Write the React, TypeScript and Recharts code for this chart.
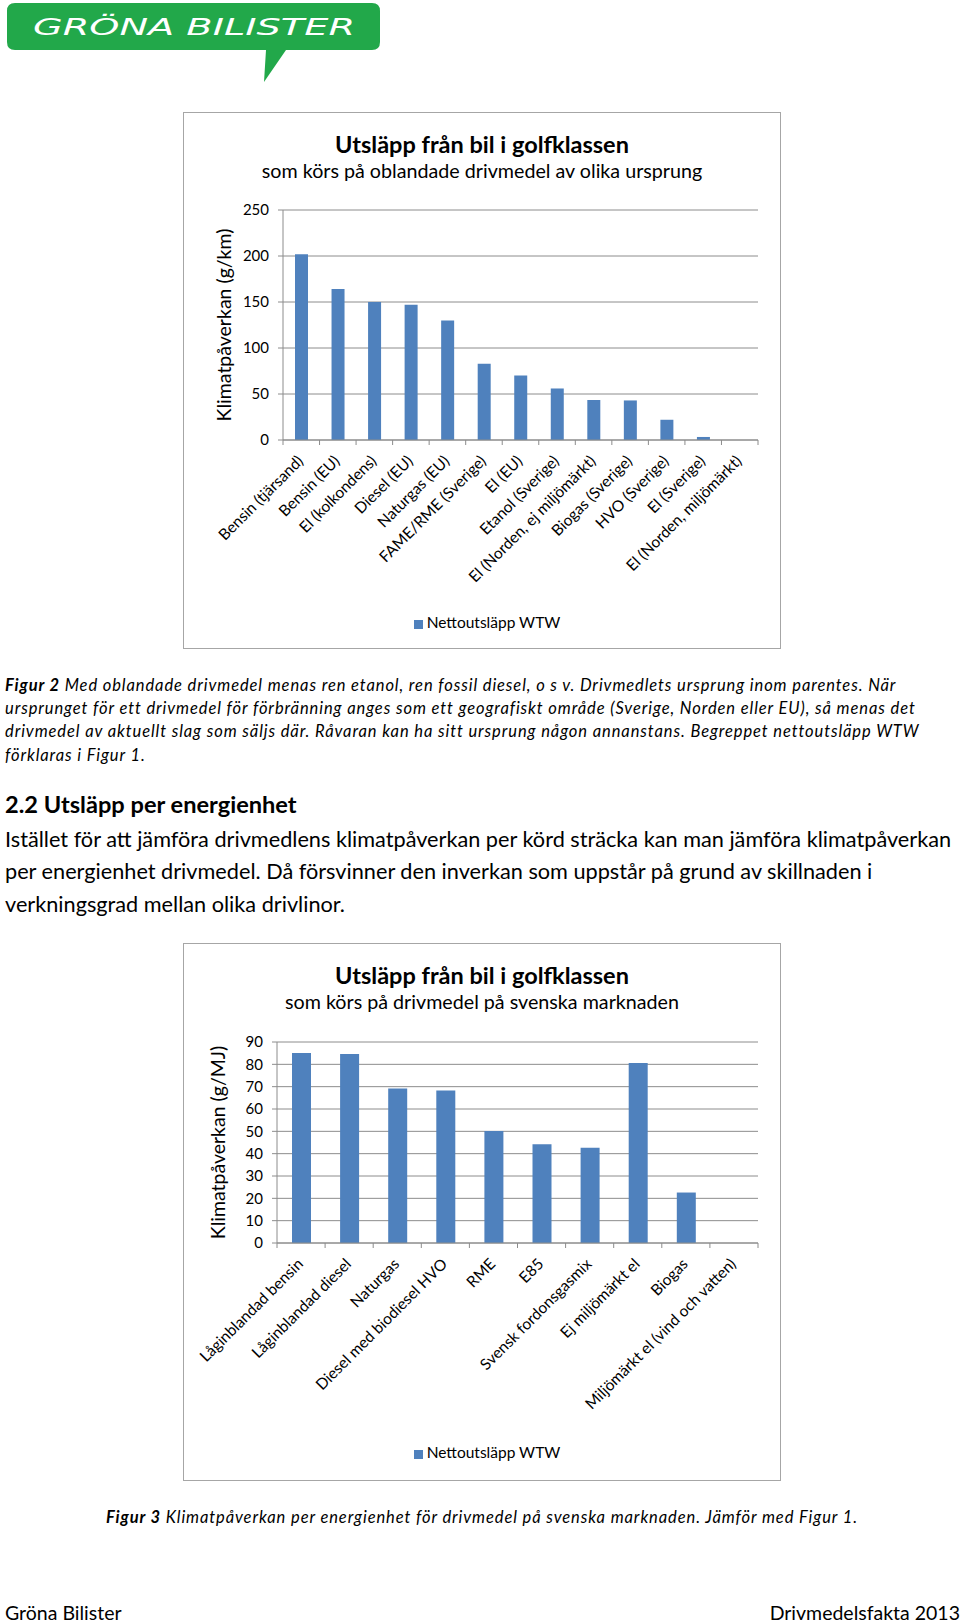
import React from 'react';
import { BarChart, Bar, XAxis, YAxis, CartesianGrid, Legend, Label } from 'recharts';

const FONT = "Lato, 'Open Sans', sans-serif";
const BLUE = '#4f81bd';
const GRID = '#8c8c8c';
const Y_AXIS_W = 60;

// Figur 2 - g/km, oblandade drivmedel
const fuelsKm = [
  'Bensin (tjärsand)',
  'Bensin (EU)',
  'El (kolkondens)',
  'Diesel (EU)',
  'Naturgas (EU)',
  'FAME/RME (Sverige)',
  'El (EU)',
  'Etanol (Sverige)',
  'El (Norden, ej miljömärkt)',
  'Biogas (Sverige)',
  'HVO (Sverige)',
  'El (Sverige)',
  'El (Norden, miljömärkt)',
];
const emissionsKm = [202, 164, 150, 147, 130, 83, 70, 56, 43.5, 43, 22, 3.3, 0];
const yTicksKm = [0, 50, 100, 150, 200, 250];

// Figur 3 - g/MJ, svenska marknaden
const fuelsMJ = [
  'Låginblandad bensin',
  'Låginblandad diesel',
  'Naturgas',
  'Diesel med biodiesel HVO',
  'RME',
  'E85',
  'Svensk fordonsgasmix',
  'Ej miljömärkt el',
  'Biogas',
  'Miljömärkt el (vind och vatten)',
];
const emissionsMJ = [85.1, 84.6, 69.2, 68.3, 50.1, 44.2, 42.7, 80.6, 22.6, 0];
const yTicksMJ = [0, 10, 20, 30, 40, 50, 60, 70, 80, 90];

const SERIES = 'Nettoutsläpp WTW';

type PanelProps = {
  left: number;
  top: number;
  width: number;
  height: number;
  title: string;
  subtitle: string;
  yLabel: string;
  names: string[];
  values: number[];
  ticks: number[];
  margin: { top: number; right: number; bottom: number; left: number };
  xAxisHeight: number;
  barSize: number;
  legendTop: number;
};

// category label plus Excel-style tick marks between the categories
const CatTick = (props: any) => {
  const { x, y, payload, index, count, band } = props;
  const ax = x + 3;
  const ay = y + 22;
  return (
    <g>
      <line x1={x - band / 2} x2={x - band / 2} y1={y} y2={y + 5} stroke={GRID} />
      {index === count - 1 && <line x1={x + band / 2} x2={x + band / 2} y1={y} y2={y + 5} stroke={GRID} />}
      <text
        x={ax}
        y={ay}
        transform={`rotate(-45 ${ax} ${ay})`}
        textAnchor="end"
        fontSize={15.5}
        fontFamily={FONT}
        fill="#000"
      >
        {payload.value}
      </text>
    </g>
  );
};

const YTitle = (props: any) => {
  const vb = props.viewBox || {};
  const cx = vb.x;
  const cy = vb.y + vb.height / 2;
  return (
    <text
      x={cx}
      y={cy}
      transform={`rotate(-90 ${cx} ${cy})`}
      textAnchor="middle"
      dominantBaseline="central"
      fontSize={19.5}
      fontFamily={FONT}
      fill="#000"
    >
      {props.value}
    </text>
  );
};

const ChartPanel = (p: PanelProps) => {
  const data = p.names.map((name, i) => ({ name, value: p.values[i] }));
  const n = p.names.length;
  const plotW = p.width - p.margin.left - p.margin.right - Y_AXIS_W;
  const max = p.ticks[p.ticks.length - 1];
  return (
    <div style={{ position: 'absolute', left: p.left, top: p.top, width: p.width, height: p.height }}>
      <div
        style={{
          position: 'absolute',
          inset: 0,
          border: '1.5px solid #a6a6a6',
          boxSizing: 'border-box',
        }}
      />
      <div
        style={{
          position: 'absolute',
          left: 0,
          width: p.width,
          top: 17,
          textAlign: 'center',
          fontWeight: 700,
          fontSize: 23.5,
          lineHeight: '30px',
        }}
      >
        {p.title}
      </div>
      <div
        style={{
          position: 'absolute',
          left: 0,
          width: p.width,
          top: 46,
          textAlign: 'center',
          fontSize: 19.7,
          lineHeight: '26px',
        }}
      >
        {p.subtitle}
      </div>
      <div style={{ position: 'absolute', left: 0, top: 0 }}>
        <BarChart width={p.width} height={p.height} data={data} margin={p.margin} barSize={p.barSize}>
          <CartesianGrid vertical={false} stroke={GRID} strokeWidth={1} />
          <XAxis
            dataKey="name"
            interval={0}
            height={p.xAxisHeight}
            tickLine={false}
            tickSize={0}
            tickMargin={0}
            axisLine={{ stroke: GRID }}
            tick={<CatTick count={n} band={plotW / n} />}
          />
          <YAxis
            domain={[0, max]}
            ticks={p.ticks}
            interval={0}
            width={Y_AXIS_W}
            tickSize={5}
            tickMargin={9}
            axisLine={{ stroke: GRID }}
            tickLine={{ stroke: GRID }}
            tick={{ fill: '#000', fontSize: 15, fontFamily: FONT }}
          >
            <Label value={p.yLabel} content={<YTitle value={p.yLabel} />} />
          </YAxis>
          <Legend
            layout="horizontal"
            verticalAlign="middle"
            align="center"
            iconType="square"
            iconSize={9}
            wrapperStyle={{ top: p.legendTop, left: 10, width: p.width, fontSize: 15.5, fontFamily: FONT, lineHeight: '20px' }}
            formatter={(v: string) => <span style={{ color: '#000' }}>{v}</span>}
          />
          <Bar dataKey="value" name={SERIES} fill={BLUE} isAnimationActive={false} />
        </BarChart>
      </div>
    </div>
  );
};

const TextLine = ({ x, y, size, children, style }: any) => (
  <div
    style={{
      position: 'absolute',
      left: x,
      top: y - size * 0.7,
      fontSize: size,
      lineHeight: `${size * 1.4}px`,
      whiteSpace: 'nowrap',
      ...style,
    }}
  >
    {children}
  </div>
);

const Logo = () => (
  <svg width={400} height={90} style={{ position: 'absolute', left: 0, top: 0 }}>
    <path
      d="M15 3 H372 Q380 3 380 11 V42 Q380 50 372 50 H286 L264 82 L266 50 H15 Q7 50 7 42 V11 Q7 3 15 3 Z"
      fill="#22a84a"
    />
    <text
      x={33}
      y={35}
      fill="#fff"
      fontSize={23}
      fontStyle="italic"
      fontFamily="'DejaVu Sans', sans-serif"
      textLength={322}
      lengthAdjust="spacingAndGlyphs"
    >
      GRÖNA BILISTER
    </text>
  </svg>
);

export default function App() {
  const cap = { fontStyle: 'italic', letterSpacing: '0.9px' };
  const body = 21.7;
  return (
    <div
      style={{
        position: 'absolute',
        left: 0,
        top: 0,
        width: 960,
        height: 1624,
        background: '#fff',
        overflow: 'hidden',
        fontFamily: FONT,
        color: '#000',
      }}
    >
      <Logo />

      <ChartPanel
        left={183}
        top={112}
        width={598}
        height={537}
        title="Utsläpp från bil i golfklassen"
        subtitle="som körs på oblandade drivmedel av olika ursprung"
        yLabel="Klimatpåverkan (g/km)"
        names={fuelsKm}
        values={emissionsKm}
        ticks={yTicksKm}
        margin={{ top: 98, right: 23, bottom: 59, left: 40 }}
        xAxisHeight={150}
        barSize={13}
        legendTop={500}
      />

      <TextLine x={5} y={686} size={16.5} style={cap}>
        <b>Figur 2</b> Med oblandade drivmedel menas ren etanol, ren fossil diesel, o s v. Drivmedlets ursprung inom parentes. När
      </TextLine>
      <TextLine x={5} y={709} size={16.5} style={cap}>
        ursprunget för ett drivmedel för förbränning anges som ett geografiskt område (Sverige, Norden eller EU), så menas det
      </TextLine>
      <TextLine x={5} y={732} size={16.5} style={cap}>
        drivmedel av aktuellt slag som säljs där. Råvaran kan ha sitt ursprung någon annanstans. Begreppet nettoutsläpp WTW
      </TextLine>
      <TextLine x={5} y={756} size={16.5} style={cap}>
        förklaras i Figur 1.
      </TextLine>

      <TextLine x={5} y={805} size={23.6} style={{ fontWeight: 700 }}>
        2.2 Utsläpp per energienhet
      </TextLine>
      <TextLine x={5} y={839} size={body}>
        Istället för att jämföra drivmedlens klimatpåverkan per körd sträcka kan man jämföra klimatpåverkan
      </TextLine>
      <TextLine x={5} y={871} size={body}>
        per energienhet drivmedel. Då försvinner den inverkan som uppstår på grund av skillnaden i
      </TextLine>
      <TextLine x={5} y={904} size={body}>
        verkningsgrad mellan olika drivlinor.
      </TextLine>

      <ChartPanel
        left={183}
        top={943}
        width={598}
        height={538}
        title="Utsläpp från bil i golfklassen"
        subtitle="som körs på drivmedel på svenska marknaden"
        yLabel="Klimatpåverkan (g/MJ)"
        names={fuelsMJ}
        values={emissionsMJ}
        ticks={yTicksMJ}
        margin={{ top: 99, right: 23, bottom: 58, left: 34 }}
        xAxisHeight={180}
        barSize={19}
        legendTop={499}
      />

      <TextLine x={0} y={1518} size={16.5} style={{ ...cap, width: 964, textAlign: 'center' }}>
        <b>Figur 3</b> Klimatpåverkan per energienhet för drivmedel på svenska marknaden. Jämför med Figur 1.
      </TextLine>

      <TextLine x={5} y={1613} size={19.5}>
        Gröna Bilister
      </TextLine>
      <TextLine x={0} y={1613} size={19.5} style={{ width: 960, textAlign: 'right' }}>
        Drivmedelsfakta 2013
      </TextLine>
    </div>
  );
}
